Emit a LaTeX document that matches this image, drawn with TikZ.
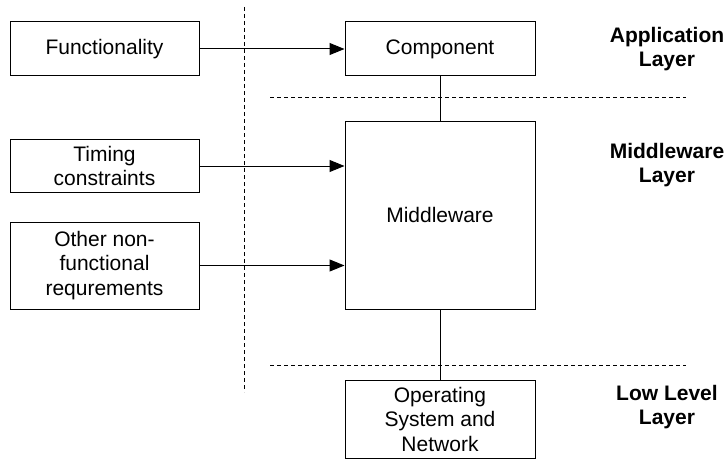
\documentclass[tikz,border=0pt]{standalone}
\usepackage{fontspec}
\setmainfont{Liberation Sans}
\usetikzlibrary{arrows.meta}
\begin{document}
\begin{tikzpicture}[x=1pt,y=-1pt,
  every node/.style={font=\fontsize{21}{24.5}\selectfont},
  block/.style={draw, line width=1pt, fill=white, align=center, inner sep=2pt},
  layer/.style={align=center, font=\fontsize{21}{24.5}\selectfont\bfseries},
  link/.style={line width=1pt},
  arr/.style={line width=1pt, -{Triangle[length=15pt,width=12pt]}},
  sep/.style={line width=1pt, dash pattern=on 4pt off 3pt}
]
\useasboundingbox (0,0) rectangle (726,460);

% dashed separators
\coordinate (vtop) at (244,7);
\coordinate (vbot) at (244,392);
\coordinate (h1l) at (270,98);
\coordinate (h1r) at (686,98);
\coordinate (h2l) at (270,365);
\coordinate (h2r) at (686,365);
\draw[sep] (vtop) -- (vbot);
\draw[sep] (h1l) -- (h1r);
\draw[sep] (h2l) -- (h2r);

% requirement boxes
\node[block, minimum width=189pt, minimum height=54pt] (func) at (104.5,49) {Functionality};
\node[block, minimum width=189pt, minimum height=53pt] (timing) at (104.5,166) {Timing\\constraints};
\node[block, minimum width=189pt, minimum height=87pt] (other) at (104.5,265.5) {Other non-\\functional\\requrements};

% layered stack
\node[block, minimum width=190pt, minimum height=54pt] (comp) at (440,49) {Component};
\node[block, minimum width=190pt, minimum height=188pt] (mw) at (440,215) {Middleware};
\node[block, minimum width=190pt, minimum height=78pt] (os) at (440,419) {Operating\\System and\\Network};

% connectors
\draw[link] (comp.south) -- (mw.north);
\draw[link] (mw.south) -- (os.north);
\draw[arr] (func.east) -- (comp.west);
\draw[arr] (timing.east) -- (timing.east -| mw.west);
\draw[arr] (other.east) -- (other.east -| mw.west);

% layer labels
\node[layer] (lapp) at (667,49) {Application\\Layer};
\node[layer] (lmid) at (667,165) {Middleware\\Layer};
\node[layer] (llow) at (667,407) {Low Level\\Layer};
\end{tikzpicture}
\end{document}
